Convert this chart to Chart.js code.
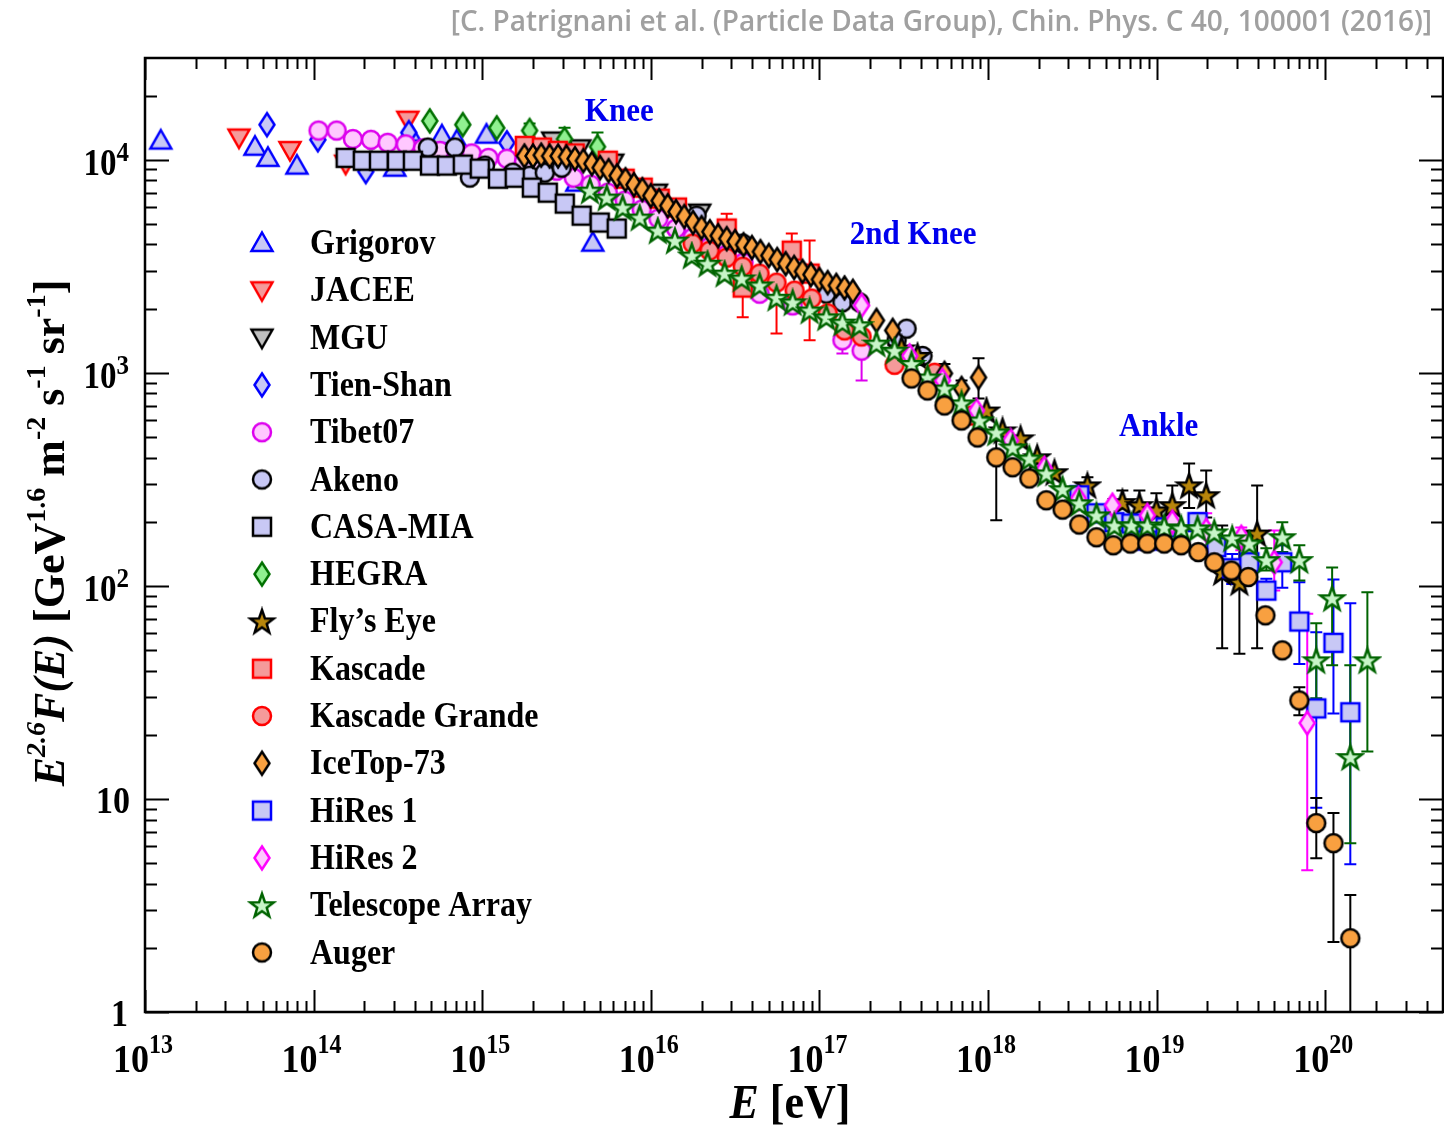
<!DOCTYPE html>
<html>
<head>
<meta charset="utf-8">
<script src="https://cdn.jsdelivr.net/npm/chart.js@4.4.1/dist/chart.umd.min.js"></script>
<style>
  html, body { margin: 0; padding: 0; background: #fff; }
  #wrap { width: 1444px; height: 1128px; }
</style>
</head>
<body>
<div id="wrap"><canvas id="crChart" width="1444" height="1128"></canvas></div>
<script>
// energy E [eV] and E^2.6 F(E) per experiment
const grigorovE = [1.24e13, 4.49e13, 5.36e13, 7.96e13, 3.03e14, 3.72e14, 5.77e14, 7.07e14, 1.06e15, 3.64e15, 4.53e15];
const grigorovF = [12300, 11500, 10200, 9380, 9170, 13400, 13000, 12300, 13100, 7800, 4080];

const jaceeE = [3.61e13, 7.24e13, 1.55e14, 3.62e14];
const jaceeF = [12700, 11100, 9580, 15400];

const mguE = [2.62e15, 3.79e15, 5.94e15, 1.08e16, 1.95e16];
const mguF = [12300, 11300, 9680, 7000, 5640];

const tienShanE = [5.29e13, 1.06e14, 2.04e14, 3.67e14, 1.40e15];
const tienShanF = [14600, 12400, 8790, 13400, 12000];

const tibetE = [1.07e14, 1.37e14, 1.71e14, 2.19e14, 2.75e14, 3.52e14, 4.45e14, 5.61e14, 7.07e14, 8.67e14,
  1.09e15, 1.40e15, 1.77e15, 2.22e15, 2.77e15, 3.49e15, 4.40e15, 5.56e15, 7.00e15, 8.83e15,
  1.11e16, 1.41e16, 1.77e16, 2.23e16, 2.82e16, 3.55e16, 4.42e16, 6.94e16, 1.37e17, 1.78e17];
const tibetF = [13700, 13700, 12500, 12400, 12000, 11800, 11300, 11000, 10800, 10700,
  10200, 10100, 9800, 9380, 8880, 8230, 7640, 7000, 6420, 5830,
  5290, 4750, 4310, 3910, 3590, 3290, 2350, 2070, 1420, 1270];
const tibetHi = [...Array(29).fill(null), 2250];
const tibetLo = [...Array(27).fill(null), 1900, 1230, 920];

const akenoE = [4.76e14, 6.89e14, 8.45e14, 1.04e15, 1.52e15, 1.91e15, 2.35e15, 2.96e15, 1.87e16, 3.51e16,
  1.10e17, 1.37e17, 1.73e17, 2.87e17, 3.29e17, 4.09e17];
const akenoF = [11400, 11400, 8240, 9380, 8690, 8410, 8690, 9170, 5460, 4040,
  2350, 2140, 2140, 1420, 1610, 1200];

const casaE = [1.55e14, 1.96e14, 2.44e14, 3.12e14, 3.88e14, 4.90e14, 6.17e14, 7.67e14, 9.68e14,
  1.24e15, 1.56e15, 1.97e15, 2.45e15, 3.09e15, 3.89e15, 4.98e15, 6.28e15];
const casaF = [10200, 9890, 9890, 9890, 9890, 9380, 9380, 9480, 9080,
  8140, 8230, 7390, 7000, 6220, 5460, 5070, 4750];

const hegraE = [4.89e14, 7.67e14, 1.22e15, 1.91e15, 3.08e15, 4.83e15];
const hegraF = [15200, 14600, 14100, 13700, 12500, 11500];
const hegraHi = [null, null, null, 14800, 14100, 13400];
const hegraLo = [null, null, null, 12700, 11100, 9900];

const flysEyeE = [3.07e17, 3.82e17, 9.80e17, 1.22e18, 1.56e18, 1.96e18, 2.48e18, 3.89e18, 6.27e18,
  7.91e18, 9.98e18, 1.24e19, 1.56e19, 1.97e19, 2.45e19, 3.10e19, 3.95e19];
const flysEyeF = [1300, 1200, 665, 536, 492, 401, 341, 296, 247,
  239, 226, 239, 296, 266, 116, 104, 176];
const flysEyeHi = [null, null, null, null, null, null, null, 323, 280, 280, 272, 296, 375, 348, 192, 163, 296];
const flysEyeLo = [null, null, null, null, null, null, null, null, null, null, null, null, 232, 209, 51, 48, 51];

const kascadeE = [1.79e15, 2.26e15, 2.81e15, 3.54e15, 5.56e15, 7.00e15, 8.96e15, 1.13e16, 1.43e16,
  2.82e16, 3.51e16, 6.86e16, 8.75e16];
const kascadeF = [11600, 11400, 11000, 10700, 9890, 8140, 7390, 6560, 5960,
  4750, 2510, 3740, 2920];
const kascadeHi = [null, null, null, null, null, null, null, null, null, 5580, 3000, 4500, 4170];
const kascadeLo = [null, null, null, null, null, null, null, null, null, null, 1820, null, 1420];

const grandeE = [1.77e16, 2.23e16, 2.82e16, 3.51e16, 4.42e16, 5.57e16, 7.13e16, 8.99e16, 1.12e17,
  1.41e17, 1.78e17, 2.79e17, 4.82e17, 7.98e17];
const grandeF = [4040, 3740, 3470, 3150, 2920, 2650, 2430, 2230, 1900,
  1580, 1480, 1090, 1000, 630];
const grandeLo = [null, null, null, null, null, 1530, null, null, null, null, null, null, null, null];

const iceTopE = [1.78e15, 2.00e15, 2.24e15, 2.51e15, 2.82e15, 3.16e15, 3.55e15, 3.98e15, 4.47e15, 5.01e15,
  5.62e15, 6.31e15, 7.08e15, 7.94e15, 8.91e15, 1.00e16, 1.12e16, 1.26e16, 1.41e16, 1.58e16,
  1.78e16, 2.00e16, 2.24e16, 2.51e16, 2.82e16, 3.16e16, 3.55e16, 3.98e16, 4.47e16, 5.01e16,
  5.62e16, 6.31e16, 7.08e16, 7.94e16, 8.91e16, 1.00e17, 1.12e17, 1.26e17, 1.41e17, 1.58e17,
  2.18e17, 2.72e17, 5.52e17, 6.97e17, 8.79e17];
const iceTopF = [10400, 10400, 10500, 10400, 10400, 10300, 10100, 9890, 9580, 9170,
  8880, 8410, 8050, 7630, 7230, 6780, 6420, 6080, 5700, 5410,
  5070, 4800, 4590, 4400, 4260, 4130, 3990, 3870, 3700, 3550,
  3400, 3250, 3120, 2990, 2890, 2740, 2650, 2570, 2500, 2410,
  1760, 1580, 993, 844, 950];
const iceTopHi = [...Array(42).fill(null), 1100, 920, 1170];
const iceTopLo = [...Array(44).fill(null), 757];

const hires1E = [3.48e18, 4.40e18, 5.62e18, 7.10e18, 8.82e18, 1.13e19, 1.75e19, 2.26e19,
  2.81e19, 3.55e19, 4.48e19, 5.57e19, 7.03e19, 8.86e19, 1.12e20, 1.41e20];
const hires1F = [266, 219, 199, 196, 163, 188, 199, 152, 121, 129, 95, 129, 68, 26.6, 54, 25.5];
const hires1Hi = [null, null, null, null, null, null, 219, null, 141, 142, 108, 155, 104, 60.5, 107, 82.8];
const hires1Lo = [null, null, null, null, null, null, null, null, 102, 117, 87, 98, 43, 9.1, 25.2, 4.94];

const hires2E = [1.78e17, 3.43e17, 5.37e17, 8.55e17, 1.36e18, 2.16e18, 3.44e18, 5.47e18, 8.82e18,
  1.24e19, 1.97e19, 3.18e19, 4.99e19, 7.83e19];
const hires2F = [2070, 1200, 920, 665, 481, 356, 257, 239, 214, 199, 182, 169, 129, 22.7];
const hires2Hi = [2250, null, null, null, null, null, null, null, null, null, 219, 188, 182, 74];
const hires2Lo = [null, null, null, null, null, null, null, null, null, null, null, 147, 95, 4.63];

const taE = [4.35e15, 5.48e15, 6.81e15, 8.59e15, 1.10e16, 1.39e16, 1.75e16, 2.17e16, 2.74e16, 3.46e16,
  4.42e16, 5.57e16, 6.94e16, 8.75e16, 1.10e17, 1.37e17, 1.73e17, 2.18e17, 2.79e17, 3.52e17,
  4.38e17, 5.52e17, 6.97e17, 8.91e17, 1.12e18, 1.40e18, 1.76e18, 2.22e18, 2.77e18, 3.48e18,
  4.40e18, 5.62e18, 7.10e18, 8.82e18, 1.11e19, 1.40e19, 1.75e19, 2.20e19, 2.81e19, 3.55e19,
  4.48e19, 5.57e19, 7.03e19, 8.86e19, 1.10e20, 1.41e20, 1.78e20];
const taF = [7160, 6640, 5960, 5350, 4650, 4170, 3550, 3250, 2920, 2770,
  2570, 2250, 2140, 1960, 1820, 1720, 1670, 1370, 1270, 1100,
  950, 844, 718, 597, 525, 446, 396, 337, 284, 244,
  214, 192, 192, 192, 188, 186, 186, 178, 167, 158,
  132, 169, 132, 44.7, 87.4, 15.7, 44.7];
const taHi = [...Array(40).fill(null), 150, 199, 155, 66.7, 122, 42.4, 93.3];
const taLo = [...Array(40).fill(null), 118, 144, 106, 29.7, 42.4, 6.2, 16.7];

const augerE = [3.52e17, 4.38e17, 5.52e17, 6.97e17, 8.67e17, 1.12e18, 1.40e18, 1.76e18, 2.22e18, 2.77e18,
  3.48e18, 4.40e18, 5.54e18, 7.00e18, 8.82e18, 1.11e19, 1.40e19, 1.77e19, 2.20e19, 2.78e19,
  3.50e19, 4.42e19, 5.57e19, 7.03e19, 8.86e19, 1.12e20, 1.41e20];
const augerF = [940, 826, 702, 597, 497, 401, 360, 319, 252, 228,
  194, 169, 155, 158, 158, 158, 155, 144, 129, 118,
  110, 72.7, 49.8, 29.0, 7.70, 6.20, 2.22];
const augerHi = [null, null, null, null, null, 481, ...Array(17).fill(null), 33.4, 10.1, 8.58, 3.54];
const augerLo = [null, null, null, null, null, 203, ...Array(17).fill(null), 24.7, 5.27, 2.13, 0.8];

// axis decades and annotations
const xDecades = [13, 14, 15, 16, 17, 18, 19, 20];
const yDecades = [0, 1, 2, 3, 4];
const regionLabels = ['Knee', '2nd Knee', 'Ankle'];
const regionE = [6.5e15, 3.6e17, 1.03e19];
const regionF = [15200, 4020, 505];

const SERIF = '"Liberation Serif", "Times New Roman", serif';
const bold = s => `bold ${s}px ${SERIF}`;
const boldIt = s => `italic bold ${s}px ${SERIF}`;
const STRETCH = 1.12;

const LILAC = '#c8c8f5';
const PINK = '#f59a9a';
const ORANGE = '#f8a040';

function makeMarker(shape, fill, stroke) {
  const s = 30, m = s / 2;
  const c = document.createElement('canvas');
  c.width = s; c.height = s;
  const g = c.getContext('2d');
  g.beginPath();
  if (shape === 'circle') {
    g.arc(m, m, 9, 0, Math.PI * 2);
  } else if (shape === 'square') {
    g.rect(m - 9, m - 9, 18, 18);
  } else if (shape === 'up') {
    g.moveTo(m, m - 10.5); g.lineTo(m + 10.5, m + 8); g.lineTo(m - 10.5, m + 8); g.closePath();
  } else if (shape === 'down') {
    g.moveTo(m, m + 10.5); g.lineTo(m + 10.5, m - 8); g.lineTo(m - 10.5, m - 8); g.closePath();
  } else if (shape === 'diamond') {
    g.moveTo(m, m - 11.5); g.lineTo(m + 7.5, m); g.lineTo(m, m + 11.5); g.lineTo(m - 7.5, m); g.closePath();
  } else if (shape === 'star') {
    for (let k = 0; k < 10; k++) {
      const r = k % 2 ? 5 : 12.5;
      const a = -Math.PI / 2 + k * Math.PI / 5;
      g.lineTo(m + r * Math.cos(a), m + 1 + r * Math.sin(a));
    }
    g.closePath();
  }
  g.fillStyle = fill;
  g.fill();
  g.lineWidth = 2.5;
  g.lineJoin = 'miter';
  g.strokeStyle = stroke;
  g.stroke();
  return c;
}

const series = [
  { label: 'Grigorov', e: grigorovE, f: grigorovF, shape: 'up', fill: LILAC, stroke: '#0000ff' },
  { label: 'JACEE', e: jaceeE, f: jaceeF, shape: 'down', fill: PINK, stroke: '#ff0000' },
  { label: 'MGU', e: mguE, f: mguF, shape: 'down', fill: '#c0c0c0', stroke: '#000000' },
  { label: 'Tien-Shan', e: tienShanE, f: tienShanF, shape: 'diamond', fill: LILAC, stroke: '#0000ff' },
  { label: 'Tibet07', e: tibetE, f: tibetF, hi: tibetHi, lo: tibetLo, shape: 'circle', fill: '#ffc8ff', stroke: '#dd00ee' },
  { label: 'Akeno', e: akenoE, f: akenoF, shape: 'circle', fill: LILAC, stroke: '#000000' },
  { label: 'CASA-MIA', e: casaE, f: casaF, shape: 'square', fill: LILAC, stroke: '#000000' },
  { label: 'HEGRA', e: hegraE, f: hegraF, hi: hegraHi, lo: hegraLo, shape: 'diamond', fill: '#90f090', stroke: '#007000' },
  { label: 'Fly\u2019s Eye', e: flysEyeE, f: flysEyeF, hi: flysEyeHi, lo: flysEyeLo, shape: 'star', fill: '#b8860b', stroke: '#000000' },
  { label: 'Kascade', e: kascadeE, f: kascadeF, hi: kascadeHi, lo: kascadeLo, shape: 'square', fill: PINK, stroke: '#ff0000' },
  { label: 'Kascade Grande', e: grandeE, f: grandeF, lo: grandeLo, shape: 'circle', fill: PINK, stroke: '#ff0000' },
  { label: 'IceTop-73', e: iceTopE, f: iceTopF, hi: iceTopHi, lo: iceTopLo, shape: 'diamond', fill: ORANGE, stroke: '#000000' },
  { label: 'HiRes 1', e: hires1E, f: hires1F, hi: hires1Hi, lo: hires1Lo, shape: 'square', fill: LILAC, stroke: '#0000ff' },
  { label: 'HiRes 2', e: hires2E, f: hires2F, hi: hires2Hi, lo: hires2Lo, shape: 'diamond', fill: '#ffc8ff', stroke: '#ff00ff' },
  { label: 'Telescope Array', e: taE, f: taF, hi: taHi, lo: taLo, shape: 'star', fill: '#c8f5c8', stroke: '#006400' },
  { label: 'Auger', e: augerE, f: augerF, hi: augerHi, lo: augerLo, shape: 'circle', fill: ORANGE, stroke: '#000000' }
];

series.forEach(s => { s.marker = makeMarker(s.shape, s.fill, s.stroke); });

// draws a run of [text, font, rise] pieces, stretched a little vertically
function drawRuns(ctx, runs, x, y, align, sy) {
  ctx.save();
  ctx.translate(x, y);
  ctx.scale(1, sy || STRETCH);
  let total = 0;
  runs.forEach(r => { ctx.font = r[1]; total += ctx.measureText(r[0]).width; });
  let cx = align === 'center' ? -total / 2 : align === 'right' ? -total : 0;
  ctx.textAlign = 'left';
  ctx.textBaseline = 'alphabetic';
  runs.forEach(r => {
    ctx.font = r[1];
    ctx.fillText(r[0], cx, -(r[2] || 0));
    cx += ctx.measureText(r[0]).width;
  });
  ctx.restore();
}

const errorBars = {
  id: 'errorBars',
  beforeDatasetsDraw(chart) {
    const { ctx, chartArea: a, scales: { x, y } } = chart;
    ctx.save();
    ctx.beginPath();
    ctx.rect(a.left, a.top, a.width, a.height);
    ctx.clip();
    ctx.lineWidth = 2;
    chart.data.datasets.forEach(ds => {
      if (!ds.errHi && !ds.errLo) return;
      ctx.strokeStyle = ds.errColor;
      ds.data.forEach((p, i) => {
        const hi = ds.errHi ? ds.errHi[i] : null;
        const lo = ds.errLo ? ds.errLo[i] : null;
        if (hi == null && lo == null) return;
        const px = x.getPixelForValue(p.x);
        const py = y.getPixelForValue(p.y);
        const yh = hi != null ? y.getPixelForValue(hi) : py;
        const yl = lo != null ? y.getPixelForValue(lo) : py;
        ctx.beginPath();
        ctx.moveTo(px, yh);
        ctx.lineTo(px, yl);
        if (hi != null) { ctx.moveTo(px - 6, yh); ctx.lineTo(px + 6, yh); }
        if (lo != null) { ctx.moveTo(px - 6, yl); ctx.lineTo(px + 6, yl); }
        ctx.stroke();
      });
    });
    ctx.restore();
  }
};

const frameAndText = {
  id: 'frameAndText',
  afterDraw(chart) {
    const { ctx, chartArea: a, scales: { x, y } } = chart;
    ctx.save();
    ctx.strokeStyle = '#000';
    ctx.fillStyle = '#000';

    // inward ticks on all four sides
    ctx.lineWidth = 2;
    ctx.beginPath();
    xDecades.forEach(d => {
      for (let m = 1; m <= 9; m++) {
        const v = m * Math.pow(10, d);
        if (v >= x.max) break;
        const px = Math.round(x.getPixelForValue(v)) + 0.5;
        const len = m === 1 ? 22 : 11;
        ctx.moveTo(px, a.bottom); ctx.lineTo(px, a.bottom - len);
        ctx.moveTo(px, a.top); ctx.lineTo(px, a.top + len);
      }
    });
    yDecades.forEach(d => {
      for (let m = 1; m <= 9; m++) {
        const v = m * Math.pow(10, d);
        if (v >= y.max) break;
        const py = Math.round(y.getPixelForValue(v)) + 0.5;
        const len = m === 1 ? 24 : 12;
        ctx.moveTo(a.left, py); ctx.lineTo(a.left + len, py);
        ctx.moveTo(a.right, py); ctx.lineTo(a.right - len, py);
      }
    });
    ctx.stroke();

    ctx.lineWidth = 2.5;
    ctx.strokeRect(a.left, a.top, a.width, a.height);

    // x tick labels 10^n
    xDecades.forEach(d => {
      const px = x.getPixelForValue(Math.pow(10, d));
      drawRuns(ctx, [['10', bold(36)], [String(d), bold(24), 17]], px - 2, 1072, 'center');
    });

    // y tick labels
    yDecades.forEach(d => {
      const py = y.getPixelForValue(Math.pow(10, d));
      if (d === 0) drawRuns(ctx, [['1', bold(34)]], 128, py + 14, 'right');
      else if (d === 1) drawRuns(ctx, [['10', bold(34)]], 130, py + 14, 'right');
      else drawRuns(ctx, [['10', bold(33)], [String(d), bold(25), 12]], 129, py + 15, 'right');
    });

    // axis titles
    drawRuns(ctx, [['E', boldIt(44)], [' [eV]', bold(44)]], 790, 1118, 'center');
    ctx.save();
    ctx.translate(64, 533);
    ctx.rotate(-Math.PI / 2);
    drawRuns(ctx, [
      ['E', boldIt(44)], ['2.6', boldIt(28), 19], ['F(E)', boldIt(44)],
      [' [GeV', bold(44)], ['1.6', bold(28), 19], [' m', bold(44)], ['-2', bold(28), 19],
      [' s', bold(44)], ['-1', bold(28), 19], [' sr', bold(44)], ['-1', bold(28), 19], [']', bold(44)]
    ], 0, 0, 'center', 1);
    ctx.restore();

    // region labels
    ctx.fillStyle = '#0000ee';
    regionLabels.forEach((t, i) => {
      drawRuns(ctx, [[t, bold(31)]], x.getPixelForValue(regionE[i]), y.getPixelForValue(regionF[i]), 'center');
    });

    // legend inside the plot
    ctx.fillStyle = '#000';
    series.forEach((s, i) => {
      const cy = 243 + i * 47.3;
      ctx.drawImage(s.marker, 262 - s.marker.width / 2, cy - s.marker.height / 2);
      drawRuns(ctx, [[s.label, bold(32)]], 310, cy + 11, 'left');
    });

    // reference line
    ctx.fillStyle = '#a0a0a0';
    ctx.font = `600 28px "Open Sans", sans-serif`;
    ctx.textAlign = 'right';
    ctx.textBaseline = 'alphabetic';
    ctx.fillText('[C. Patrignani et al. (Particle Data Group), Chin. Phys. C 40, 100001 (2016)]', 1432, 31);
    ctx.restore();
  }
};

const N = series.length;
new Chart(document.getElementById('crChart').getContext('2d'), {
  type: 'scatter',
  data: {
    datasets: series.map((s, i) => ({
      label: s.label,
      data: s.e.map((e, k) => ({ x: e, y: s.f[k] })),
      pointStyle: s.marker,
      pointRadius: 10,
      pointHoverRadius: 10,
      errHi: s.hi,
      errLo: s.lo,
      errColor: s.stroke,
      order: N - i
    }))
  },
  options: {
    responsive: false,
    animation: false,
    events: [],
    layout: { autoPadding: false, padding: { left: 145, right: 1, top: 58, bottom: 116 } },
    scales: {
      x: { type: 'logarithmic', min: 1e13, max: 5e20, display: false },
      y: { type: 'logarithmic', min: 1, max: 3e4, display: false }
    },
    plugins: {
      legend: { display: false },
      tooltip: { enabled: false }
    }
  },
  plugins: [errorBars, frameAndText]
});
</script>
</body>
</html>
